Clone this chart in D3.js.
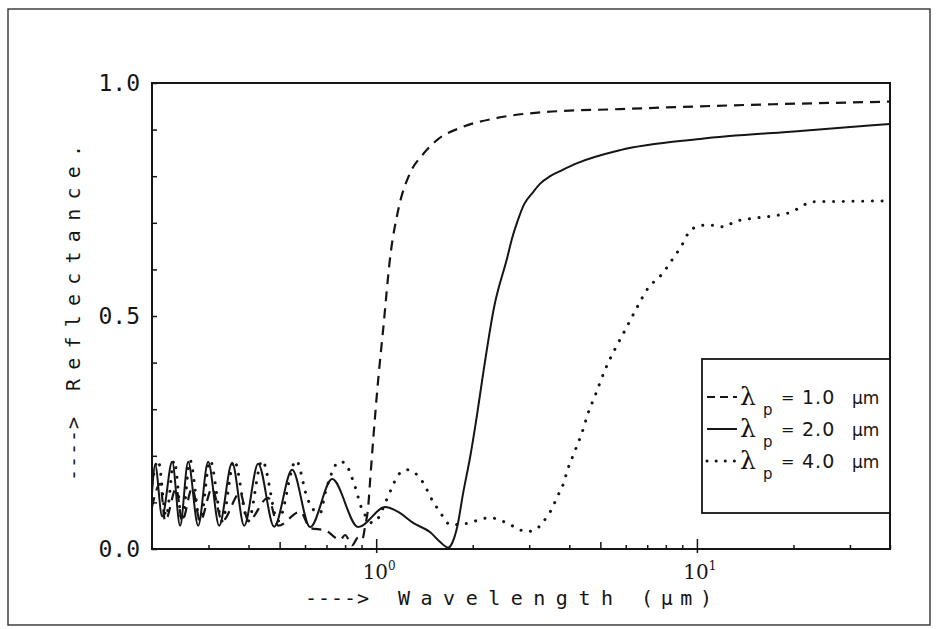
<!DOCTYPE html>
<html><head><meta charset="utf-8">
<script src="https://cdn.jsdelivr.net/npm/d3@7"></script>
<style>body{margin:0;background:#fff}</style>
</head><body>
<svg id="c" width="936" height="629"></svg>
<script>
// λp = 1.0 µm (dashed)
const wl1 = [0.200,0.2121,0.2198,0.2379,0.2483,0.2668,0.2826,0.3080,0.3310,0.3766,0.3990,0.4605,0.4947,0.5794,0.6225,0.6934,0.7722,0.8004,0.8416,0.8788,0.9044,0.9241,0.9442,0.9578,0.9787,1.0145,1.051,1.106,1.171,1.276,1.391,1.550,1.867,2.384,3.413,5.767,10.24,40];
const R1  = [0.09,0.14,0.06,0.13,0.06,0.13,0.06,0.13,0.06,0.12,0.06,0.11,0.05,0.08,0.045,0.04,0.02,0.03,0.008,0.025,0.02,0.05,0.09,0.148,0.234,0.363,0.47,0.627,0.727,0.807,0.845,0.878,0.906,0.925,0.938,0.944,0.95,0.96];
// λp = 2.0 µm (solid)
const wl2 = [0.200,0.2046,0.2151,0.2312,0.2447,0.2593,0.2786,0.2993,0.3239,0.3556,0.3877,0.4286,0.4807,0.5470,0.6225,0.7291,0.8788,1.067,1.188,1.304,1.474,1.583,1.677,1.726,1.789,1.867,1.964,2.065,2.141,2.333,2.562,2.656,2.754,2.894,3.087,3.246,3.488,3.80,4.236,5.767,10.24,20.99,40];
const R2  = [0.12,0.18,0.07,0.187,0.05,0.187,0.05,0.187,0.05,0.185,0.05,0.183,0.048,0.17,0.047,0.15,0.047,0.09,0.077,0.056,0.036,0.015,0.003,0.013,0.047,0.12,0.198,0.29,0.363,0.52,0.625,0.668,0.702,0.740,0.766,0.784,0.800,0.813,0.828,0.856,0.88,0.897,0.912];
// λp = 4.0 µm (dotted)
const wl4 = [0.200,0.2090,0.2214,0.2345,0.2483,0.2630,0.2826,0.3037,0.3310,0.3607,0.3990,0.4411,0.4947,0.5629,0.6092,0.6361,0.6689,0.6934,0.7343,0.7612,0.8004,0.8296,0.8601,0.9044,0.9374,0.9717,1.0145,1.067,1.122,1.171,1.249,1.342,1.402,1.495,1.550,1.618,1.701,1.964,2.110,2.268,2.436,2.580,2.754,2.915,3.132,3.294,3.438,3.564,3.668,3.802,3.970,4.175,4.389,4.582,4.819,5.176,5.562,5.977,6.467,7.047,7.738,8.435,9.064,9.396,9.95,10.61,11.40,12.16,13.07,15.09,17.42,19.97,21.30,22.72,30.06,40];
const R4  = [0.14,0.19,0.07,0.19,0.06,0.19,0.06,0.19,0.06,0.19,0.06,0.19,0.06,0.19,0.11,0.085,0.077,0.12,0.17,0.187,0.185,0.163,0.133,0.084,0.067,0.056,0.066,0.099,0.133,0.159,0.170,0.159,0.142,0.105,0.088,0.069,0.052,0.056,0.064,0.067,0.062,0.054,0.045,0.037,0.041,0.056,0.073,0.092,0.112,0.133,0.174,0.212,0.251,0.292,0.330,0.385,0.43,0.47,0.515,0.56,0.588,0.624,0.657,0.678,0.691,0.695,0.695,0.691,0.702,0.710,0.715,0.725,0.736,0.745,0.746,0.747];

const legendValues = ["1.0","2.0","4.0"];
const xMajorTicks = [1,10];
const xMidTicks = [0.5,5];
const xMinorTicks = [0.3,0.4,0.6,0.7,0.8,0.9,2,3,4,6,7,8,9,20,30,40];
const yTicks = [0,0.1,0.2,0.3,0.4,0.5,0.6,0.7,0.8,0.9,1.0];
const yLabelTicks = [0,0.5,1.0];
const arrowText = "---->";
const xLabelWords = ["Wavelength","(\u03bcm)"];
const yLabelWord = "Reflectance.";

const svg = d3.select("#c");
const L=152, Rt=890, T=83, B=549;
const x = d3.scaleLog().domain([0.2,40]).range([L,Rt]);
const y = d3.scaleLinear().domain([0,1]).range([B,T]);
const ink = "#151515";

svg.append("rect").attr("width",936).attr("height",629).attr("fill","#fff");
// outer frame
svg.append("rect").attr("x",8).attr("y",9).attr("width",922).attr("height",616)
  .attr("fill","none").attr("stroke","#333").attr("stroke-width",1.4);

svg.append("clipPath").attr("id","clip").append("rect")
  .attr("x",L).attr("y",T-2).attr("width",Rt-L).attr("height",B-T+2);

function axisG(ax, tx, ty){
  const g = svg.append("g").attr("transform",`translate(${tx},${ty})`).call(ax);
  g.select(".domain").remove();
  g.selectAll("line").attr("stroke",ink).attr("stroke-width",1.5);
  return g;
}
axisG(d3.axisBottom(x).tickValues(xMinorTicks).tickSizeInner(-4).tickSizeOuter(0).tickFormat(""),0,B);
axisG(d3.axisBottom(x).tickValues(xMidTicks).tickSizeInner(-7).tickSizeOuter(0).tickFormat(""),0,B);
axisG(d3.axisBottom(x).tickValues(xMajorTicks).tickSizeInner(-10).tickSizeOuter(0).tickFormat(""),0,B);
axisG(d3.axisBottom(x).tickValues(xMajorTicks).tickSizeInner(4).tickSizeOuter(0).tickFormat(""),0,B);
axisG(d3.axisLeft(y).tickValues(yTicks).tickSizeInner(-5).tickSizeOuter(0).tickFormat(""),L,0);

// plot box
svg.append("rect").attr("x",L).attr("y",T).attr("width",Rt-L).attr("height",B-T)
  .attr("fill","none").attr("stroke",ink).attr("stroke-width",2);

// y tick labels
svg.selectAll("text.yl").data(yLabelTicks).enter().append("text")
  .attr("x",140).attr("y",d=>y(d)+8).attr("text-anchor","end")
  .attr("font-family","DejaVu Sans Mono").attr("font-size",23).attr("fill",ink)
  .text(d=>d3.format(".1f")(d));

// x tick labels 10^n
xMajorTicks.forEach(v=>{
  const t = svg.append("text").attr("x",x(v)+3).attr("y",579).attr("text-anchor","middle")
    .attr("font-family","DejaVu Serif").attr("font-size",20).attr("fill",ink);
  t.append("tspan").text("10");
  t.append("tspan").attr("dy",-9).attr("font-size",12).text(String(Math.round(Math.log10(v))));
});

// axis labels
const mono = {"font-family":"DejaVu Sans Mono","font-size":20,"fill":ink};
function monoText(g){ Object.entries(mono).forEach(([k,v])=>g.attr(k,v)); return g; }
monoText(svg.append("text")).attr("x",305).attr("y",605).attr("textLength",64).attr("lengthAdjust","spacing").text(arrowText);
monoText(svg.append("text")).attr("x",398).attr("y",605).attr("textLength",215).attr("lengthAdjust","spacing").text(xLabelWords[0]);
monoText(svg.append("text")).attr("x",641).attr("y",605).attr("textLength",71).attr("lengthAdjust","spacing").text(xLabelWords[1]);
monoText(svg.append("text")).attr("transform","translate(80,481) rotate(-90)").attr("textLength",64).attr("lengthAdjust","spacing").text(arrowText);
monoText(svg.append("text")).attr("transform","translate(80,391) rotate(-90)").attr("textLength",246).attr("lengthAdjust","spacing").text(yLabelWord);

// curves
const line = d3.line().x(d=>x(d[0])).y(d=>y(d[1])).curve(d3.curveMonotoneX);
const series = [
  {wl:wl1, r:R1, dash:"10,7", w:2.2, cap:"butt"},
  {wl:wl2, r:R2, dash:null, w:2, cap:"butt"},
  {wl:wl4, r:R4, dash:"0.1,9.6", w:3, cap:"round"}
];
const cg = svg.append("g").attr("clip-path","url(#clip)");
series.forEach(s=>{
  cg.append("path").datum(d3.zip(s.wl,s.r)).attr("d",line)
    .attr("fill","none").attr("stroke",ink).attr("stroke-width",s.w)
    .attr("stroke-linecap",s.cap).attr("stroke-dasharray",s.dash);
});

// legend
const lg = svg.append("g");
lg.append("rect").attr("x",702).attr("y",359).attr("width",Rt-702).attr("height",154)
  .attr("fill","#fff").attr("stroke",ink).attr("stroke-width",1.8);
series.forEach((s,i)=>{
  const cy = 397 + i*32;
  lg.append("line").attr("x1",707).attr("x2",737).attr("y1",cy).attr("y2",cy)
    .attr("stroke",ink).attr("stroke-width",s.w).attr("stroke-linecap",s.cap)
    .attr("stroke-dasharray", i===0 ? "8,5" : (i===2 ? "0.1,9" : null));
  lg.append("text").attr("x",740).attr("y",cy+8).attr("font-family","DejaVu Serif")
    .attr("font-size",25).attr("fill",ink).text("\u03bb");
  lg.append("text").attr("x",763).attr("y",cy+18).attr("font-family","DejaVu Sans")
    .attr("font-size",15).attr("fill",ink).text("p");
  lg.append("text").attr("x",781).attr("y",cy+6).attr("font-family","DejaVu Sans")
    .attr("font-size",16).attr("fill",ink).text("=");
  lg.append("text").attr("x",802).attr("y",cy+7).attr("font-family","DejaVu Sans")
    .attr("font-size",19).attr("fill",ink).attr("letter-spacing",1).text(legendValues[i]);
  lg.append("text").attr("x",852).attr("y",cy+7).attr("font-family","DejaVu Sans")
    .attr("font-size",17).attr("fill",ink).text("\u03bcm");
});
</script>
</body></html>
